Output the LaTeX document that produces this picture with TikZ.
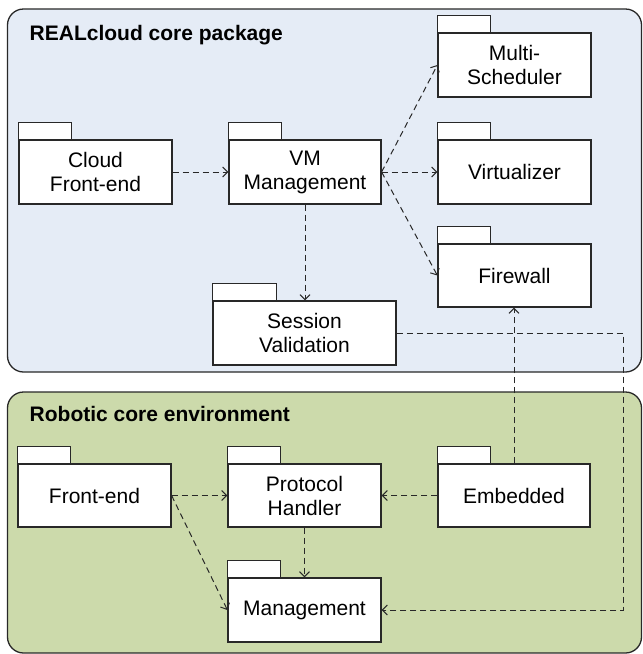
\documentclass[tikz,border=0pt]{standalone}
\usepackage{fontspec}
\setmainfont{Liberation Sans}
\usetikzlibrary{arrows.meta}
\definecolor{cloudbg}{RGB}{229,236,246}
\definecolor{robotbg}{RGB}{204,218,171}
\definecolor{edge}{RGB}{40,40,40}
\tikzset{
  frame/.style={draw=edge, line width=1.3pt, rounded corners=16pt},
  pkgbody/.style={draw=edge, fill=white, line width=1.2pt, align=center, inner sep=0pt,
     font=\fontsize{21}{24}\selectfont},
  pkgtab/.style={draw=edge, fill=white, line width=1.2pt},
  dep/.style={draw=edge, line width=1pt, dash pattern=on 6pt off 4pt,
     -{Straight Barb[length=5pt,width=10pt,line width=1pt]}},
  title/.style={anchor=base west, inner sep=0pt, font=\fontsize{21}{24}\selectfont\bfseries}
}
\newcommand{\pkgbox}[7]{% name, x1, y1, x2, y2, tabwidth, text
  \node[pkgbody, minimum width={(#4-#2)*1pt}, minimum height={(#5-#3)*1pt}]
     (#1) at ({(#2+#4)/2},{(#3+#5)/2}) {#7};
  \draw[pkgtab] (#1.north west) rectangle ++(#6pt,17pt);
}
\begin{document}
\begin{tikzpicture}[x=1pt,y=-1pt]
\useasboundingbox (0,0) rectangle (643,654);
% frames
\draw[frame, fill=cloudbg] (7.5,9) rectangle (641.5,372);
\draw[frame, fill=robotbg] (7.5,392) rectangle (641.5,653);
\node[title] (t1) at (29.5,40.5) {REALcloud core package};
\node[title] (t2) at (29.5,421.5) {Robotic core environment};
% cloud packages
\pkgbox{cfe}{19}{140}{172}{204}{53}{Cloud\\Front-end}
\pkgbox{vm}{229}{140}{381}{204}{53}{VM\\Management}
\pkgbox{ms}{438}{33}{591}{97}{53}{Multi-\\Scheduler}
\pkgbox{vz}{438}{140}{591}{204}{53}{Virtualizer}
\pkgbox{fw}{438}{244}{591}{307}{53}{Firewall}
\pkgbox{sv}{213}{301}{396}{365}{64}{Session\\Validation}
% robot packages
\pkgbox{fe}{18}{464}{171}{527}{53}{Front-end}
\pkgbox{ph}{228}{464}{381}{527}{53}{Protocol\\Handler}
\pkgbox{mg}{228}{578}{381}{642}{53}{Management}
\pkgbox{em}{438}{464}{590}{527}{53}{Embedded}
% dependencies
\coordinate (rt) at (623,0);
\draw[dep] (cfe.east) -- (vm.west);
\draw[dep] (vm.east) -- (ms.west);
\draw[dep] (vm.east) -- (vz.west);
\draw[dep] (vm.east) -- (fw.west);
\draw[dep] (vm.south) -- (vm.south |- sv.north);
\draw[dep] (sv.east) -- (sv.east -| rt) -- (mg.east -| rt) -- (mg.east);
\draw[dep] (em.north) -- (em.north |- fw.south);
\draw[dep] (fe.east) -- (ph.west);
\draw[dep] (fe.east) -- (mg.west);
\draw[dep] (em.west) -- (ph.east);
\draw[dep] (ph.south) -- (ph.south |- mg.north);
\end{tikzpicture}
\end{document}
